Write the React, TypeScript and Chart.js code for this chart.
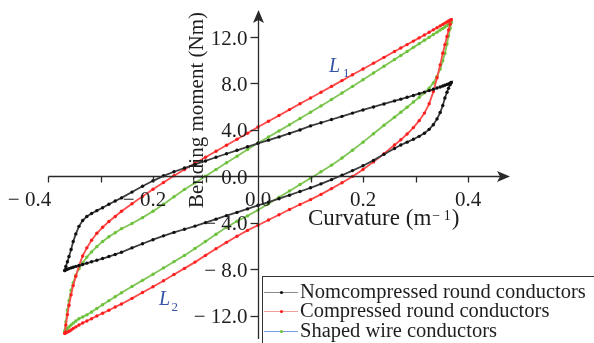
import React, { useEffect, useRef } from "react";
import { Chart, registerables } from "chart.js";

Chart.register(...registerables);

// Curvature grid (m^-1) shared by all branches
const curvature = [
  -0.368, -0.366, -0.363, -0.36, -0.356, -0.352, -0.347, -0.341, -0.334, -0.326, -0.317, -0.307, -0.296, -0.284, -0.272, -0.26,
  -0.24, -0.22, -0.2, -0.18, -0.16, -0.14, -0.12, -0.1, -0.08, -0.06, -0.04, -0.02, 0, 0.02, 0.04, 0.06, 0.08, 0.1, 0.12, 0.14, 0.16, 0.18, 0.2, 0.22, 0.24,
  0.26, 0.272, 0.284, 0.296, 0.307, 0.317, 0.326, 0.334, 0.341, 0.347, 0.352, 0.356, 0.36, 0.363, 0.366, 0.368,
];

// Nomcompressed round conductors (Nm)
const nomUpper = [
  -8.1, -7.75, -7.35, -6.9, -6.3, -5.6, -4.95, -4.3, -3.8, -3.45, -3.2, -2.95, -2.7, -2.4, -2.12, -1.85,
  -1.35, -0.85, -0.38, 0.05, 0.4, 0.72, 1.03, 1.33, 1.65, 1.95, 2.25, 2.55, 2.85, 3.12, 3.4, 3.7, 4.0, 4.35, 4.62, 4.9, 5.17, 5.45, 5.72, 5.98, 6.24,
  6.5, 6.65, 6.81, 6.97, 7.12, 7.26, 7.39, 7.5, 7.61, 7.7, 7.78, 7.85, 7.92, 7.97, 8.03, 8.08,
];
const nomLower = [
  -8.1, -8.04, -7.99, -7.94, -7.88, -7.82, -7.75, -7.67, -7.58, -7.47, -7.35, -7.22, -7.07, -6.9, -6.72, -6.53,
  -6.15, -5.8, -5.45, -5.12, -4.82, -4.55, -4.28, -3.98, -3.68, -3.38, -3.1, -2.8, -2.5, -2.22, -1.92, -1.62, -1.3, -0.98, -0.64, -0.28, 0.1, 0.5, 0.92, 1.38, 1.9,
  2.4, 2.7, 2.95, 3.2, 3.45, 3.72, 4.05, 4.45, 4.95, 5.5, 6.1, 6.75, 7.25, 7.6, 7.9, 8.08,
];

// Compressed round conductors (Nm)
const compUpper = [
  -13.5, -12.8, -11.9, -11.1, -10.2, -9.4, -8.6, -7.7, -6.85, -6.15, -5.5, -4.9, -4.38, -3.88, -3.45, -3.0,
  -2.35, -1.72, -1.1, -0.52, 0.05, 0.6, 1.13, 1.65, 2.17, 2.68, 3.2, 3.72, 4.25, 4.75, 5.25, 5.75, 6.25, 6.75, 7.25, 7.75, 8.25, 8.75, 9.25, 9.75, 10.25,
  10.75, 11.05, 11.35, 11.65, 11.93, 12.18, 12.41, 12.62, 12.8, 12.96, 13.09, 13.2, 13.3, 13.38, 13.45, 13.5,
];
const compLower = [
  -13.5, -13.46, -13.4, -13.33, -13.22, -13.1, -12.96, -12.8, -12.62, -12.45, -12.25, -12.02, -11.78, -11.52, -11.25, -10.98,
  -10.5, -10.0, -9.5, -8.98, -8.45, -7.92, -7.38, -6.8, -6.22, -5.68, -5.15, -4.65, -4.2, -3.75, -3.3, -2.85, -2.42, -2.0, -1.55, -1.05, -0.55, 0.0, 0.6, 1.25, 1.95,
  2.7, 3.15, 3.65, 4.2, 4.8, 5.45, 6.25, 7.3, 8.5, 9.6, 10.6, 11.35, 12.05, 12.6, 13.1, 13.5,
];

// Shaped wire conductors (Nm)
const shapedUpper = [
  -13.3, -12.5, -11.5, -10.7, -9.8, -9.15, -8.5, -7.95, -7.45, -6.95, -6.5, -6.05, -5.6, -5.2, -4.85, -4.5,
  -4.05, -3.55, -3.0, -2.4, -1.75, -1.12, -0.55, 0.02, 0.6, 1.17, 1.74, 2.31, 2.88, 3.4, 3.92, 4.45, 4.98, 5.52, 6.07, 6.62, 7.18, 7.75, 8.32, 8.9, 9.48,
  10.06, 10.41, 10.76, 11.11, 11.43, 11.72, 11.98, 12.22, 12.42, 12.6, 12.74, 12.86, 12.98, 13.08, 13.18, 13.25,
];
const shapedLower = [
  -13.3, -13.22, -13.1, -12.96, -12.8, -12.63, -12.45, -12.25, -12.1, -11.92, -11.68, -11.38, -11.05, -10.7, -10.36, -10.02,
  -9.48, -8.95, -8.42, -7.88, -7.34, -6.8, -6.2, -5.6, -4.98, -4.38, -3.86, -3.4, -2.9, -2.35, -1.8, -1.25, -0.7, -0.15, 0.4, 0.97, 1.58, 2.25, 2.95, 3.67, 4.4,
  5.1, 5.52, 5.95, 6.4, 6.8, 7.2, 7.6, 8.05, 8.6, 9.25, 9.95, 10.6, 11.4, 12.1, 12.75, 13.25,
];

const seriesNames = ["Nomcompressed round conductors", "Compressed round conductors", "Shaped wire conductors"];

const xTickValues = [-0.4, -0.3, -0.2, -0.1, 0.1, 0.2, 0.3, 0.4];
const xLabelValues = [-0.4, -0.2, 0, 0.2, 0.4];
const xLabels = ["− 0.4", "− 0.2", "0.0", "0.2", "0.4"];
const yTickValues = [12, 8, 4, 0, -4, -8, -12];
const yLabels = ["12.0", "8.0", "4.0", "0.0", "− 4.0", "− 8.0", "− 12.0"];

const xTitle = "Curvature (m";
const xTitleSup = "− 1";
const yTitle = "Bending moment (Nm)";
const loopLabels = ["L", "1", "L", "2"];

const SERIF = '"Liberation Serif", "Times New Roman", serif';
const AXIS = "#2a2a2a";
const TEXT = "#1e1e1e";
const NOTE = "#3553a6";

const styles = [
  { point: "#101010", line: "#3c3c3c", legendLine: "#8a8a8a" },
  { point: "#ff1e1e", line: "#ff4a4a", legendLine: "#f2a0a0" },
  { point: "#6cc238", line: "#80c656", legendLine: "#7b9ee6" },
];

function loop(lower: number[], upper: number[]) {
  const pts = lower.map((y, i) => ({ x: curvature[i], y }));
  for (let i = curvature.length - 1; i >= 0; i--) pts.push({ x: curvature[i], y: upper[i] });
  return pts;
}

const decor = {
  id: "decor",
  afterDatasetsDraw(chart: any) {
    const { ctx, chartArea } = chart;
    const xs = chart.scales.x;
    const ys = chart.scales.y;
    const x0 = Math.round(xs.getPixelForValue(0)) + 0.5;
    const y0 = Math.round(ys.getPixelForValue(0)) + 0.5;
    ctx.save();
    ctx.strokeStyle = AXIS;
    ctx.fillStyle = AXIS;
    ctx.lineWidth = 1.3;

    // x axis with arrow
    const xl = Math.round(xs.getPixelForValue(xTickValues[0])) + 0.5;
    const xr = chartArea.right;
    ctx.beginPath();
    ctx.moveTo(xl, y0);
    ctx.lineTo(xr - 8, y0);
    ctx.stroke();
    ctx.beginPath();
    ctx.moveTo(xr, y0);
    ctx.lineTo(xr - 13, y0 - 5.5);
    ctx.lineTo(xr - 10, y0);
    ctx.lineTo(xr - 13, y0 + 5.5);
    ctx.closePath();
    ctx.fill();

    // y axis with arrow
    const yt = chartArea.top + 2;
    ctx.beginPath();
    ctx.moveTo(x0, chartArea.bottom);
    ctx.lineTo(x0, yt + 8);
    ctx.stroke();
    ctx.beginPath();
    ctx.moveTo(x0, yt);
    ctx.lineTo(x0 - 5.5, yt + 13);
    ctx.lineTo(x0, yt + 10);
    ctx.lineTo(x0 + 5.5, yt + 13);
    ctx.closePath();
    ctx.fill();

    // ticks
    for (const v of xTickValues) {
      const p = Math.round(xs.getPixelForValue(v)) + 0.5;
      ctx.beginPath();
      ctx.moveTo(p, y0);
      ctx.lineTo(p, y0 + 6);
      ctx.stroke();
    }
    for (const v of yTickValues) {
      if (v === 0) continue;
      const p = Math.round(ys.getPixelForValue(v)) + 0.5;
      ctx.beginPath();
      ctx.moveTo(x0, p);
      ctx.lineTo(x0 - 8, p);
      ctx.stroke();
    }

    // tick labels
    ctx.fillStyle = TEXT;
    ctx.font = `21px ${SERIF}`;
    ctx.textBaseline = "alphabetic";
    xLabelValues.forEach((v, i) => {
      const parts = xLabels[i].split(" ");
      const digits = parts[parts.length - 1];
      const sign = parts.length > 1 ? parts[0] + " " : "";
      const w = ctx.measureText(digits).width;
      let cx = xs.getPixelForValue(v);
      if (i === 0) cx -= 10;
      ctx.textAlign = "center";
      ctx.fillText(digits, cx, y0 + 29.5);
      if (sign) {
        ctx.textAlign = "right";
        ctx.fillText(sign, cx - w / 2, y0 + 29.5);
      }
    });
    ctx.textAlign = "right";
    yTickValues.forEach((v, i) => {
      const p = ys.getPixelForValue(v);
      ctx.fillText(yLabels[i], x0 - 11, p + 7.5);
    });

    // axis titles
    ctx.textAlign = "left";
    ctx.font = `23px ${SERIF}`;
    const tx = 308;
    const tb = 225;
    ctx.fillText(xTitle, tx, tb);
    const w = ctx.measureText(xTitle).width;
    ctx.font = `14px ${SERIF}`;
    ctx.fillText(xTitleSup, tx + w + 1, tb - 5);
    const ws = ctx.measureText(xTitleSup).width;
    ctx.font = `23px ${SERIF}`;
    ctx.fillText(")", tx + w + ws + 2, tb);

    ctx.save();
    ctx.translate(203, 110);
    ctx.rotate(-Math.PI / 2);
    ctx.textAlign = "center";
    ctx.font = `21px ${SERIF}`;
    ctx.fillText(yTitle, 0, 0);
    ctx.restore();

    // loop annotations
    ctx.fillStyle = NOTE;
    ctx.textAlign = "left";
    ctx.font = `italic 20px ${SERIF}`;
    ctx.fillText(loopLabels[0], 329, 71.5);
    ctx.fillText(loopLabels[2], 159, 305);
    ctx.font = `13px ${SERIF}`;
    ctx.fillText(loopLabels[1], 343, 76.5);
    ctx.fillText(loopLabels[3], 171.5, 310.5);

    // legend
    ctx.fillStyle = "#ffffff";
    ctx.fillRect(262.5, 276.5, 340, 70);
    ctx.strokeStyle = "#333333";
    ctx.lineWidth = 1;
    ctx.strokeRect(262.5, 276.5, 340, 70);
    const rows = [292.5, 311.5, 331.5];
    const bases = [297.5, 317, 336.5];
    ctx.font = `20.5px ${SERIF}`;
    seriesNames.forEach((name, i) => {
      ctx.strokeStyle = styles[i].legendLine;
      ctx.lineWidth = 1.2;
      ctx.beginPath();
      ctx.moveTo(264, rows[i]);
      ctx.lineTo(298, rows[i]);
      ctx.stroke();
      ctx.fillStyle = styles[i].point;
      ctx.beginPath();
      ctx.arc(281.5, rows[i], 1.6, 0, Math.PI * 2);
      ctx.fill();
      ctx.fillStyle = TEXT;
      ctx.fillText(name, 300, bases[i]);
    });

    ctx.restore();
  },
};

export default function App() {
  const ref = useRef<HTMLCanvasElement | null>(null);
  useEffect(() => {
    if (!ref.current) return;
    const lows = [nomLower, compLower, shapedLower];
    const ups = [nomUpper, compUpper, shapedUpper];
    const chart = new Chart(ref.current, {
      type: "scatter",
      data: {
        datasets: seriesNames.map((name, i) => ({
          label: name,
          data: loop(lows[i], ups[i]),
          showLine: true,
          borderColor: styles[i].line,
          borderWidth: 1.8,
          pointRadius: 1.7,
          pointBorderWidth: 0,
          pointBackgroundColor: styles[i].point,
          pointBorderColor: styles[i].point,
          tension: 0,
        })),
      },
      options: {
        responsive: false,
        animation: false,
        layout: { padding: { left: 48, right: 84, top: 8, bottom: 0 } },
        scales: {
          x: { type: "linear", min: -0.4, max: 0.48, display: false },
          y: { type: "linear", min: -14, max: 14.5, display: false },
        },
        plugins: { legend: { display: false }, tooltip: { enabled: false } },
      },
      plugins: [decor],
    });
    return () => chart.destroy();
  }, []);
  return (
    <div style={{ position: "fixed", left: 0, top: 0, width: 594, height: 343, background: "#fff" }}>
      <canvas ref={ref} width={594} height={343} style={{ display: "block" }} />
    </div>
  );
}
